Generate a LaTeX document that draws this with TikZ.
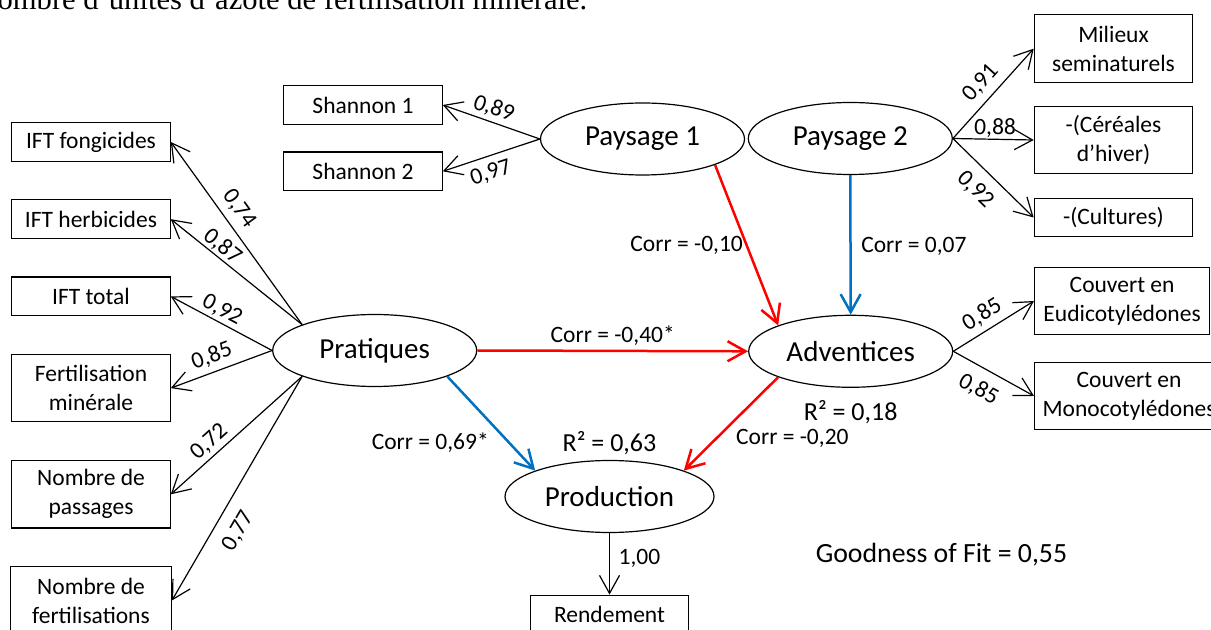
\documentclass[tikz,border=0pt]{standalone}
\usepackage{fontspec}
\setmainfont{Carlito}
\newfontfamily\docserif{Liberation Serif}
\usetikzlibrary{arrows.meta, positioning, shapes.geometric}
\definecolor{negred}{RGB}{255,0,0}
\definecolor{posblue}{RGB}{0,112,192}
\newcommand{\boxfont}{\fontsize{11.75}{14.5}\selectfont}
\newcommand{\latfont}{\fontsize{14.5}{17}\selectfont}

\tikzset{
  ind/.style={draw, rectangle, minimum width=79.2pt, minimum height=19.3pt, inner sep=2pt, align=center, font=\boxfont},
  ind2/.style={ind, minimum height=33.8pt},
  lat/.style={draw, ellipse, minimum width=102pt, minimum height=36pt, inner sep=1pt, font=\latfont},
  wlab/.style={sloped, inner sep=0pt, font=\boxfont},
  corr/.style={inner sep=0pt, text=black, font=\boxfont},
  negarrow/.style={->, negred, line width=1.25pt},
  posarrow/.style={->, posblue, line width=1.25pt},
}

\begin{document}
\begin{tikzpicture}[x=0.5pt, y=-0.5pt, semithick, >={Straight Barb[length=9pt,width=10pt]}]
    \useasboundingbox (0,0) rectangle (1211,630);
    \clip (0,0) rectangle (1211,630);

    \node[anchor=base west, inner sep=0pt, font=\docserif\fontsize{15.3}{18}\selectfont] (topline) at (-3,10) {ombre d’unités d’azote de fertilisation minérale.};

    % latent variables
    \node[lat]                      (pay1)  at (642.5,139)   {Paysage 1};
    \node[lat]                      (pay2)  at (850.3,138.5) {Paysage 2};
    \node[lat]                      (prat)  at (374.7,350.5) {Pratiques};
    \node[lat]                      (adv)   at (850.7,351.3) {Adventices};
    \node[lat, minimum width=104.5pt] (prod) at (609.5,496.5) {Production};

    % indicators
    \node[ind]   (ift1)  at (91,142)                 {IFT fongicides};
    \node[ind]   (ift2)  [below=18.7pt of ift1]      {IFT herbicides};
    \node[ind]   (ift3)  [below=18.7pt of ift2]      {IFT total};
    \node[ind2]  (fert)  [below=18.7pt of ift3]      {Fertilisation\\minérale};
    \node[ind2]  (npass) [below=18.7pt of fert]      {Nombre de\\passages};
    \node[ind2, minimum width=80.3pt] (nfert) [below=18.7pt of npass] {Nombre de\\fertilisations};

    \node[ind]   (sh1)   at (363,105)                {Shannon 1};
    \node[ind]   (sh2)   [below=13.25pt of sh1]      {Shannon 2};

    \node[ind2]  (mil)   at (1113.5,48.7)            {Milieux\\seminaturels};
    \node[ind2]  (cer)   [below=11.25pt of mil]      {-(Céréales\\d’hiver)};
    \node[ind]   (cult)  [below=11.6pt of cer]       {-(Cultures)};

    \node[ind2, anchor=west, minimum width=87.5pt, inner xsep=4pt] (eudi) at (1034,301) {Couvert en\\Eudicotylédones};
    \node[ind2, anchor=west, minimum width=87.5pt, inner xsep=4pt] (mono) at (1034,396) {Couvert en\\Monocotylédones};

    \node[ind]   (rend)  [below=30.75pt of prod]     {Rendement};

    % loadings
    \path[->]
        (pay1.west)       edge node[wlab, above=1.6pt, pos=.52] {0,89} (sh1.east)
        (pay1.west)       edge node[wlab, below=3.6pt, pos=.56] {0,97} (sh2.east)
        (pay2.east)       edge node[wlab, above=3.2pt, pos=.5]  {0,91} (mil.west)
        (pay2.east)       edge node[wlab, above=0.6pt, pos=.52] {0,88} (cer.west)
        (pay2.east)       edge node[wlab, below=5.5pt, pos=.46] {0,92} (cult.west)
        (prat.north west) edge node[wlab, above=3.6pt, pos=.58] {0,74} (ift1.east)
        (prat.north west) edge node[wlab, above=0.5pt, pos=.66] {0,87} (ift2.east)
        (prat.west)       edge node[wlab, above=1.2pt, pos=.55] {0,92} (ift3.east)
        (prat.west)       edge node[wlab, above=2.9pt, pos=.54] {0,85} (fert.east)
        (prat.south west) edge node[wlab, above=1.8pt, pos=.64] {0,72} (npass.east)
        (prat.south west) edge node[wlab, below=6.3pt, pos=.64] {0,77} (nfert.east)
        (adv.east)        edge node[wlab, above=2.8pt, pos=.46] {0,85} (eudi.west)
        (adv.east)        edge node[wlab, below=5.5pt, pos=.44] {0,85} (mono.west)
        (prod.south)      edge node[corr, right=4.25pt, pos=.41] {1,00} (rend.north)
        ;

    % structural paths
    \draw[negarrow] (pay1.south east) -- node[corr, left=1.25pt] {Corr = -0,10} (adv.north west);
    \draw[posarrow] (pay2.south) -- node[corr, right=4.75pt, pos=.51] {Corr = 0,07} (adv.north);
    \draw[negarrow] (prat.east) -- node[corr, above=2.2pt] {Corr = -0,40*} (adv.west);
    \draw[posarrow] (prat.south east) -- node[corr, left=9.4pt, pos=.7] {Corr = 0,69*} (prod.north west);
    \draw[negarrow] (adv.south west) -- node[corr, right=9.5pt, pos=.66] {Corr = -0,20} (prod.north east);

    \node[corr, font=\fontsize{13}{15}\selectfont, above=2.4pt of prod] (r2prod) {R² = 0,63};
    \node[corr, font=\fontsize{13}{15}\selectfont, below=6pt of adv]  (r2adv)  {R² = 0,18};
    \node[corr, font=\fontsize{13.9}{16}\selectfont] (gof) at (941.5,555) {Goodness of Fit = 0,55};
\end{tikzpicture}
\end{document}
